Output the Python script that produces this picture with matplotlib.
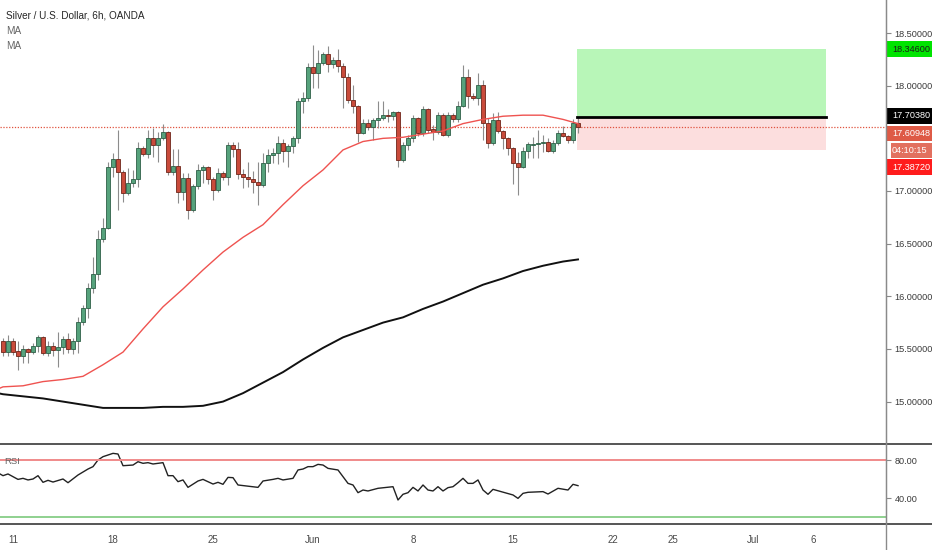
import numpy as np
import matplotlib.pyplot as plt
from matplotlib.patches import Rectangle
from matplotlib.lines import Line2D

# 6h candles, index 0 = May 11 00:00 (weekdays only, 4 bars a day)
start_idx = -2
opens = [15.58, 15.47, 15.58, 15.48, 15.43, 15.50, 15.47, 15.53, 15.61, 15.46, 15.53, 15.49, 15.52, 15.59, 15.50,
         15.58, 15.76, 15.89, 16.08, 16.21, 16.54, 16.65, 17.23, 17.30, 17.18, 16.98, 17.08, 17.11, 17.41, 17.35,
         17.50, 17.44, 17.50, 17.56, 17.18, 17.24, 16.99, 17.12, 16.82, 17.05, 17.20, 17.23, 17.11, 17.01, 17.17,
         17.13, 17.44, 17.40, 17.16, 17.13, 17.11, 17.09, 17.06, 17.27, 17.34, 17.36, 17.46, 17.38, 17.43, 17.50,
         17.85, 17.88, 18.18, 18.12, 18.22, 18.30, 18.21, 18.24, 18.19, 18.08, 17.86, 17.81, 17.55, 17.65, 17.61,
         17.67, 17.69, 17.72, 17.71, 17.75, 17.29, 17.44, 17.50, 17.69, 17.55, 17.78, 17.59, 17.56, 17.72, 17.53,
         17.72, 17.68, 17.81, 18.08, 17.90, 17.88, 18.01, 17.65, 17.46, 17.67, 17.57, 17.50, 17.41, 17.27, 17.23,
         17.38, 17.44, 17.45, 17.46, 17.47, 17.38, 17.46, 17.55, 17.52, 17.48, 17.65]
highs = [15.60, 15.63, 15.60, 15.58, 15.54, 15.51, 15.56, 15.63, 15.62, 15.58, 15.57, 15.66, 15.62, 15.65, 15.60,
         15.80, 15.92, 16.13, 16.37, 16.63, 16.74, 17.28, 17.36, 17.58, 17.20, 17.22, 17.20, 17.47, 17.43, 17.58,
         17.60, 17.56, 17.64, 17.57, 17.40, 17.40, 17.17, 17.17, 17.07, 17.26, 17.25, 17.24, 17.13, 17.22, 17.19,
         17.47, 17.47, 17.47, 17.21, 17.28, 17.19, 17.28, 17.36, 17.40, 17.41, 17.52, 17.49, 17.45, 17.52, 17.88,
         17.94, 18.22, 18.39, 18.34, 18.32, 18.38, 18.27, 18.35, 18.22, 18.12, 18.01, 17.82, 17.68, 17.68, 17.69,
         17.85, 17.85, 17.78, 17.76, 17.76, 17.47, 17.53, 17.72, 17.70, 17.81, 17.79, 17.63, 17.75, 17.74, 17.75,
         17.74, 17.85, 18.20, 18.16, 17.93, 18.12, 18.05, 17.69, 17.74, 17.75, 17.58, 17.51, 17.42, 17.37, 17.42,
         17.47, 17.51, 17.58, 17.53, 17.50, 17.48, 17.58, 17.62, 17.53, 17.68, 17.70]
lows = [15.43, 15.43, 15.44, 15.30, 15.37, 15.37, 15.45, 15.47, 15.44, 15.43, 15.43, 15.33, 15.45, 15.46, 15.45,
        15.46, 15.73, 15.79, 16.03, 16.15, 16.52, 16.64, 17.13, 16.82, 16.90, 16.96, 17.04, 17.04, 17.33, 17.31,
        17.32, 17.28, 17.48, 17.15, 17.15, 16.89, 16.91, 16.73, 16.80, 17.02, 17.08, 17.07, 16.91, 16.99, 17.10,
        17.06, 17.32, 17.11, 17.03, 17.04, 16.98, 16.87, 17.04, 17.18, 17.27, 17.26, 17.28, 17.23, 17.36, 17.46,
        17.74, 17.85, 17.98, 17.98, 18.20, 18.13, 18.17, 18.13, 17.79, 17.84, 17.74, 17.47, 17.54, 17.58, 17.48,
        17.60, 17.67, 17.66, 17.67, 17.23, 17.28, 17.39, 17.47, 17.52, 17.52, 17.55, 17.48, 17.54, 17.52, 17.51,
        17.66, 17.66, 17.80, 17.79, 17.86, 17.82, 17.48, 17.41, 17.44, 17.55, 17.40, 17.34, 17.07, 16.96, 17.22,
        17.31, 17.31, 17.31, 17.37, 17.37, 17.36, 17.44, 17.51, 17.46, 17.46, 17.55]
closes = [15.47, 15.58, 15.47, 15.43, 15.50, 15.47, 15.53, 15.61, 15.46, 15.53, 15.49, 15.52, 15.59, 15.50, 15.58,
          15.76, 15.89, 16.08, 16.21, 16.54, 16.65, 17.23, 17.30, 17.18, 16.98, 17.08, 17.11, 17.41, 17.35, 17.50,
          17.44, 17.50, 17.56, 17.18, 17.24, 16.99, 17.12, 16.82, 17.05, 17.20, 17.23, 17.11, 17.01, 17.17, 17.13,
          17.44, 17.40, 17.16, 17.13, 17.11, 17.09, 17.06, 17.27, 17.34, 17.36, 17.46, 17.38, 17.43, 17.50, 17.85,
          17.88, 18.18, 18.12, 18.22, 18.30, 18.21, 18.24, 18.19, 18.08, 17.86, 17.81, 17.55, 17.65, 17.61, 17.67,
          17.69, 17.72, 17.71, 17.75, 17.29, 17.44, 17.50, 17.69, 17.55, 17.78, 17.58, 17.56, 17.72, 17.53, 17.72,
          17.68, 17.81, 18.08, 17.90, 17.88, 18.01, 17.65, 17.46, 17.67, 17.57, 17.50, 17.41, 17.27, 17.23, 17.38,
          17.45, 17.45, 17.46, 17.47, 17.38, 17.46, 17.55, 17.52, 17.48, 17.65, 17.61]

# moving averages, read once a day
ma_idx = [-3, -2, 2, 6, 10, 14, 18, 22, 26, 30, 34, 38, 42, 46, 50, 54, 58, 62, 66, 70, 74, 78, 82, 86, 90,
          94, 98, 102, 106, 110, 113]
ma_fast = [15.12, 15.14, 15.15, 15.19, 15.21, 15.24, 15.35, 15.47, 15.69, 15.90, 16.07, 16.25, 16.42, 16.56,
           16.68, 16.87, 17.05, 17.20, 17.39, 17.47, 17.50, 17.51, 17.54, 17.57, 17.64, 17.68, 17.71, 17.72,
           17.72, 17.68, 17.64]
ma_slow = [15.08, 15.07, 15.05, 15.03, 15.00, 14.97, 14.94, 14.94, 14.94, 14.95, 14.95, 14.96, 15.00, 15.08,
           15.18, 15.28, 15.40, 15.51, 15.61, 15.68, 15.75, 15.80, 15.88, 15.95, 16.03, 16.11, 16.17, 16.24,
           16.29, 16.33, 16.35]

rsi_idx = [-3, -2, -1, 1, 2, 3, 4, 5, 6, 7, 8, 10, 11, 13, 15, 16, 17, 18, 20, 21, 22, 24, 25, 26, 27, 28, 30,
           31, 32, 33, 34, 35, 37, 38, 40, 41, 42, 43, 44, 45, 49, 50, 52, 53, 54, 56, 57, 58, 59, 60, 61, 62, 63,
           65, 67, 68, 69, 70, 71, 73, 76, 77, 78, 79, 80, 81, 82, 83, 84, 85, 86, 87, 88, 89, 90, 91, 92, 93, 94,
           95, 96, 100, 101, 102, 103, 106, 107, 109, 111, 112, 113]
rsi_val = [66.5, 63.5, 65.3, 59.6, 60.7, 59.0, 60.0, 63.5, 56.5, 58.6, 56.8, 60.0, 56.1, 64.2, 70.5, 73.0, 80.0,
           83.5, 87.0, 86.3, 74.0, 74.7, 78.2, 76.5, 77.2, 75.8, 77.2, 63.5, 63.5, 57.2, 59.0, 51.2, 57.9, 59.6,
           54.7, 56.5, 54.4, 61.7, 61.4, 53.7, 51.2, 57.9, 59.6, 60.7, 59.0, 60.7, 69.5, 70.5, 73.0, 73.0, 75.4,
           74.7, 71.2, 69.5, 55.4, 53.7, 45.6, 48.4, 47.4, 50.2, 51.9, 37.9, 43.9, 45.6, 51.2, 47.4, 53.7, 48.4,
           47.4, 51.9, 47.4, 50.9, 51.9, 56.1, 60.7, 55.4, 55.4, 59.0, 48.4, 43.9, 49.1, 43.2, 39.6, 44.9, 46.0,
           46.7, 44.2, 50.2, 48.4, 54.4, 53.0]

date_pos = [0, 20, 40, 60, 80, 100, 120, 132, 148, 160]
date_labels = ["11", "18", "25", "Jun", "8", "15", "22", "25", "Jul", "6"]
price_ticks = [15.0, 15.5, 16.0, 16.5, 17.0, 18.0, 18.5]

last_price = 17.60948
entry, target, stop = 17.70380, 18.34600, 17.38720
box_start, box_end = 112.8, 162.6

W, H = 932, 550
plt.rcParams['font.family'] = ['Liberation Sans', 'DejaVu Sans']
fig = plt.figure(figsize=(W / 100, H / 100), dpi=100)
fig.patch.set_facecolor('white')

def fy(px):
    return 1 - px / H

ax = fig.add_axes([0, fy(444), 886 / W, 444 / H])
rsi_ax = fig.add_axes([0, fy(524), 886 / W, 80 / H], sharex=ax)

# candles
idx = np.arange(start_idx, start_idx + len(opens))
o, h, l, c = map(np.array, (opens, highs, lows, closes))
up = c >= o
green, green_edge = '#56a27c', '#2e5f47'
red, red_edge = '#c94b3b', '#6e2519'
ax.vlines(idx, l, h, color='#8c8c8c', linewidth=0.8, zorder=2)
body = np.maximum(np.abs(c - o), 0.01)
ax.bar(idx[up], body[up], bottom=np.minimum(o, c)[up], width=0.72,
       color=green, edgecolor=green_edge, linewidth=0.6, zorder=3)
ax.bar(idx[~up], body[~up], bottom=np.minimum(o, c)[~up], width=0.72,
       color=red, edgecolor=red_edge, linewidth=0.6, zorder=3)

ax.plot(ma_idx, ma_fast, color='#ef5350', linewidth=1.0, zorder=4)
ax.plot(ma_idx, ma_slow, color='#111111', linewidth=1.4, zorder=4)

# long position tool
ax.add_patch(Rectangle((box_start, entry), box_end - box_start, target - entry,
                       facecolor='#b8f6b8', edgecolor='none', zorder=1))
ax.add_patch(Rectangle((box_start, stop), box_end - box_start, entry - stop,
                       facecolor='#fcdede', edgecolor='none', zorder=1))
ax.plot([box_start, box_end], [entry, entry], color='black', linewidth=2, zorder=5)

ax.axhline(last_price, color='#e0533f', linewidth=0.9, linestyle=(0, (1, 1.3)), zorder=1)

ax.set_xlim(-2.6, 174.6)
ax.set_ylim(18.8139 - 444 * 0.009497, 18.8139)
ax.yaxis.tick_right()
ax.set_yticks(price_ticks)
ax.set_yticklabels([f"{p:.5f}" for p in price_ticks])
ax.tick_params(axis='y', direction='out', length=3.5, width=0.8, color='#888888',
               labelcolor='#3a3a3a', labelsize=6.6, pad=2.5)
ax.tick_params(axis='x', bottom=False, labelbottom=False)
for s in ['top', 'left', 'bottom']:
    ax.spines[s].set_visible(False)
ax.spines['right'].set_color('#8a8a8a')

# RSI pane
rsi_ax.plot(rsi_idx, rsi_val, color='#222222', linewidth=1.0)
rsi_ax.axhline(80, color='#f08a8a', linewidth=1.4)
rsi_ax.axhline(20, color='#8fd18f', linewidth=1.4)
rsi_ax.set_ylim(80 - 64 / 0.95, 80 + 16 / 0.95)
rsi_ax.yaxis.tick_right()
rsi_ax.set_yticks([40, 80])
rsi_ax.set_yticklabels(["40.00", "80.00"])
rsi_ax.tick_params(axis='y', direction='out', length=3.5, width=0.8, color='#888888',
                   labelcolor='#3a3a3a', labelsize=6.6, pad=2.5)
rsi_ax.set_xticks(date_pos)
rsi_ax.set_xticklabels(date_labels)
rsi_ax.tick_params(axis='x', length=0, labelcolor='#4a4a4a', labelsize=7, pad=8)
for s in ['top', 'left', 'bottom']:
    rsi_ax.spines[s].set_visible(False)
rsi_ax.spines['right'].set_color('#8a8a8a')
rsi_ax.text(4 / 886, 0.78, "RSI", transform=rsi_ax.transAxes, fontsize=6.8,
            color='#666666', va='center')

# pane separators and price scale border
for ypx in (444, 524):
    fig.add_artist(Line2D([0, 1], [fy(ypx), fy(ypx)], color='#555555', linewidth=1.4))
fig.add_artist(Line2D([886 / W, 886 / W], [0, 1], color='#8a8a8a', linewidth=1.0))

# legend text
fig.text(6 / W, fy(15), "Silver / U.S. Dollar, 6h, OANDA", fontsize=7.2, color='#262626',
         va='center')
fig.text(6 / W, fy(31), "MA", fontsize=7.2, color='#666666', va='center')
fig.text(6 / W, fy(46), "MA", fontsize=7.2, color='#666666', va='center')

# price scale labels
def scale_label(text, top, bottom, face, fg, left=887):
    fig.add_artist(Rectangle((left / W, fy(bottom)), (W - left) / W, (bottom - top) / H,
                             transform=fig.transFigure, facecolor=face, edgecolor='none'))
    fig.text(892 / W, fy((top + bottom) / 2), text, fontsize=6.6, color=fg, va='center')

scale_label(f"{target:.5f}", 41, 57, '#00e400', '#1a1a1a')
scale_label(f"{entry:.5f}", 108, 124, '#000000', 'white')
scale_label(f"{last_price:.5f}", 126, 141, '#de5a46', 'white')
scale_label("04:10:15", 143, 158, '#e2705f', 'white', left=891)
scale_label(f"{stop:.5f}", 159, 175, '#ff1c1c', 'white')

plt.savefig("out.png", dpi=100)
